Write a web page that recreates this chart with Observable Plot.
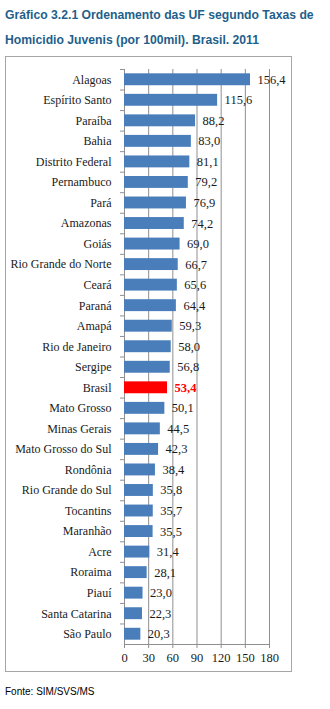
<!DOCTYPE html>
<html><head><meta charset="utf-8">
<script src="https://cdn.jsdelivr.net/npm/d3@7"></script>
<script src="https://cdn.jsdelivr.net/npm/@observablehq/plot@0.6"></script>
<style>
html,body{margin:0;padding:0;background:#fff}
body{width:330px;height:709px;position:relative;overflow:hidden}
#title{position:absolute;left:5px;top:3px;font:bold 12.2px "Liberation Sans",Arial,sans-serif;color:#1f5f8b;line-height:25px;white-space:nowrap}
#box{position:absolute;left:5px;top:56px;width:287px;height:616px;border:1px solid #a6a6a6;box-sizing:border-box;background:#fff}
#box svg{display:block}
#src{position:absolute;left:5px;top:686px;font:10px "Liberation Sans",Arial,sans-serif;color:#000;white-space:nowrap}
</style></head><body>
<div id="title">Gráfico 3.2.1 Ordenamento das UF segundo Taxas de<br>Homicidio Juvenis (por 100mil). Brasil. 2011</div>
<div id="box"></div>
<div id="src">Fonte: SIM/SVS/MS</div>
<script>
const states = ["Alagoas","Espírito Santo","Paraíba","Bahia","Distrito Federal","Pernambuco","Pará","Amazonas","Goiás","Rio Grande do Norte","Ceará","Paraná","Amapá","Rio de Janeiro","Sergipe","Brasil","Mato Grosso","Minas Gerais","Mato Grosso do Sul","Rondônia","Rio Grande do Sul","Tocantins","Maranhão","Acre","Roraima","Piauí","Santa Catarina","São Paulo"];
const values = [156.4,115.6,88.2,83.0,81.1,79.2,76.9,74.2,69.0,66.7,65.6,64.4,59.3,58.0,56.8,53.4,50.1,44.5,42.3,38.4,35.8,35.7,35.5,31.4,28.1,23.0,22.3,20.3];
const highlight = "Brasil";
const xTicks = [0,30,60,90,120,150,180];

const data = states.map((s,i) => ({state: s, value: values[i]}));
const fmt = v => d3.format(".1f")(v).replace(".", ",");

const W = 285, H = 614;
const mT = 12, mB = 27, mL = 118, mR = 22;
const step = (H - mT - mB) / states.length;
const blue = "#4a7ebb", red = "#ff0000", gray = "#8f8f8f";

const chart = Plot.plot({
  width: W, height: H,
  marginTop: mT, marginBottom: mB, marginLeft: mL, marginRight: mR,
  style: {fontFamily: "'Liberation Serif', serif", fontSize: "12px", background: "white", color: "#1a1a1a"},
  x: {domain: [0,180], ticks: xTicks, label: null},
  y: {domain: states, paddingInner: 0.42, paddingOuter: 0.21, round: false, label: null},
  color: {type: "identity"},
  marks: [
    Plot.gridX(xTicks.filter(t => t > 0), {stroke: gray, strokeOpacity: 1}),
    Plot.ruleX([0], {stroke: gray}),
    Plot.ruleY([states[states.length-1]], {x1: 0, x2: 180, dy: step/2, stroke: gray}),
    Plot.ruleY(states, {x1: -5, x2: 0, dy: -step/2, stroke: gray}),
    Plot.barX(data, {x: "value", y: "state", fill: d => d.state === highlight ? red : blue}),
    Plot.axisY({tickSize: 0, tickPadding: 13, fontSize: "12px", fill: "#1a1a1a"}),
    Plot.axisX({ticks: xTicks, tickSize: 4, tickPadding: 5, stroke: gray, tickFormat: d => String(d), fontSize: "12.5px", fill: "#1a1a1a"}),
    Plot.text(data.filter(d => d.state !== highlight), {x: "value", y: "state", text: d => fmt(d.value), textAnchor: "start", dx: 7, fontSize: 12.5, fill: "#1a1a1a"}),
    Plot.text(data.filter(d => d.state === highlight), {x: "value", y: "state", text: d => fmt(d.value), textAnchor: "start", dx: 7, fontSize: 12.5, fill: red, fontWeight: "bold"})
  ]
});
document.getElementById("box").appendChild(chart);
</script>
</body></html>
